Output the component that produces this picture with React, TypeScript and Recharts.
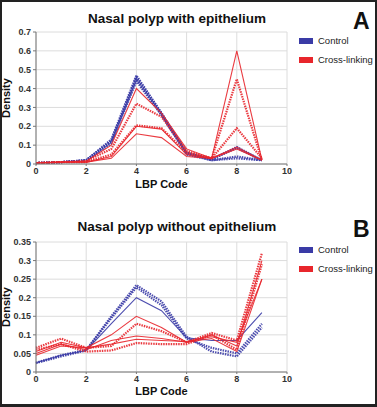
import { LineChart, Line, XAxis, YAxis, CartesianGrid } from 'recharts';

const lbpCodes = [0, 1, 2, 3, 4, 5, 6, 7, 8, 9];

// Panel A: nasal polyp with epithelium
const aControl1 = [0.005, 0.01, 0.02, 0.13, 0.47, 0.27, 0.06, 0.025, 0.09, 0.02];
const aControl2 = [0.005, 0.01, 0.02, 0.12, 0.46, 0.27, 0.06, 0.025, 0.085, 0.02];
const aControl3 = [0.005, 0.01, 0.02, 0.12, 0.45, 0.26, 0.055, 0.02, 0.04, 0.02];
const aControl4 = [0.005, 0.01, 0.015, 0.11, 0.44, 0.26, 0.05, 0.02, 0.03, 0.02];
const aCross1 = [0.005, 0.01, 0.015, 0.1, 0.4, 0.27, 0.08, 0.03, 0.6, 0.02];
const aCross2 = [0.005, 0.01, 0.015, 0.08, 0.32, 0.25, 0.07, 0.03, 0.45, 0.02];
const aCross3 = [0.005, 0.01, 0.01, 0.05, 0.205, 0.19, 0.06, 0.03, 0.19, 0.03];
const aCross4 = [0.005, 0.01, 0.01, 0.03, 0.16, 0.14, 0.04, 0.03, 0.08, 0.02];
const aCross5 = [0.005, 0.01, 0.01, 0.04, 0.2, 0.185, 0.05, 0.03, 0.09, 0.02];

// Panel B: nasal polyp without epithelium
const bControl1 = [0.024, 0.042, 0.058, 0.15, 0.234, 0.19, 0.095, 0.055, 0.042, 0.12];
const bControl2 = [0.025, 0.045, 0.06, 0.145, 0.228, 0.18, 0.09, 0.065, 0.05, 0.13];
const bControl3 = [0.025, 0.045, 0.058, 0.13, 0.2, 0.165, 0.092, 0.085, 0.085, 0.16];
const bCross1 = [0.065, 0.09, 0.065, 0.07, 0.13, 0.11, 0.08, 0.105, 0.085, 0.32];
const bCross2 = [0.055, 0.08, 0.065, 0.1, 0.15, 0.12, 0.08, 0.1, 0.07, 0.3];
const bCross3 = [0.05, 0.075, 0.06, 0.085, 0.097, 0.09, 0.08, 0.09, 0.055, 0.25];
const bCross4 = [0.06, 0.075, 0.055, 0.058, 0.078, 0.075, 0.075, 0.1, 0.06, 0.29];
const bCross5 = [0.045, 0.07, 0.065, 0.075, 0.088, 0.085, 0.082, 0.095, 0.08, 0.25];

const xTicks = [0, 2, 4, 6, 8, 10];
const aYTicks = [0, 0.1, 0.2, 0.3, 0.4, 0.5, 0.6, 0.7];
const bYTicks = [0, 0.05, 0.1, 0.15, 0.2, 0.25, 0.3, 0.35];

const BLUE = '#3a3ba6';
const RED = '#e8262c';
const FONT = '"Liberation Sans", Arial, sans-serif';

type SeriesDef = { key: string; values: number[]; color: string; dotted: boolean };

const aSeries: SeriesDef[] = [
  { key: 'c1', values: aControl1, color: BLUE, dotted: true },
  { key: 'c2', values: aControl2, color: BLUE, dotted: true },
  { key: 'c3', values: aControl3, color: BLUE, dotted: true },
  { key: 'c4', values: aControl4, color: BLUE, dotted: true },
  { key: 'x1', values: aCross1, color: RED, dotted: false },
  { key: 'x2', values: aCross2, color: RED, dotted: true },
  { key: 'x3', values: aCross3, color: RED, dotted: true },
  { key: 'x4', values: aCross4, color: RED, dotted: false },
  { key: 'x5', values: aCross5, color: RED, dotted: false },
];

const bSeries: SeriesDef[] = [
  { key: 'c1', values: bControl1, color: BLUE, dotted: true },
  { key: 'c2', values: bControl2, color: BLUE, dotted: true },
  { key: 'c3', values: bControl3, color: BLUE, dotted: false },
  { key: 'x1', values: bCross1, color: RED, dotted: true },
  { key: 'x2', values: bCross2, color: RED, dotted: false },
  { key: 'x3', values: bCross3, color: RED, dotted: false },
  { key: 'x4', values: bCross4, color: RED, dotted: true },
  { key: 'x5', values: bCross5, color: RED, dotted: false },
];

function toRows(series: SeriesDef[]) {
  return lbpCodes.map((code, i) => {
    const row: Record<string, number> = { code };
    series.forEach((s) => {
      row[s.key] = s.values[i];
    });
    return row;
  });
}

const tickStyle = { fontSize: 9, fontWeight: 700, fill: '#333', fontFamily: FONT };

function Panel({
  top,
  height,
  title,
  letter,
  series,
  yTicks,
  yMax,
  marginTop,
  xAxisHeight,
  legendTop,
  titleTop,
}: {
  top: number;
  height: number;
  title: string;
  letter: string;
  series: SeriesDef[];
  yTicks: number[];
  yMax: number;
  marginTop: number;
  xAxisHeight: number;
  legendTop: number;
  titleTop: number;
}) {
  return (
    <div style={{ position: 'absolute', left: 0, top, width: 377, height }}>
      <div
        style={{
          position: 'absolute',
          left: 0,
          width: 354,
          top: titleTop,
          textAlign: 'center',
          fontFamily: FONT,
          fontWeight: 700,
          fontSize: 13.5,
          color: '#111',
        }}
      >
        {title}
      </div>
      <div
        style={{
          position: 'absolute',
          left: 353,
          top: titleTop - 1,
          fontFamily: FONT,
          fontWeight: 700,
          fontSize: 23,
          lineHeight: '23px',
          color: '#111',
        }}
      >
        {letter}
      </div>
      {['Control', 'Cross-linking'].map((name, i) => (
        <div
          key={name}
          style={{
            position: 'absolute',
            left: 299,
            top: legendTop + i * 19,
            display: 'flex',
            alignItems: 'center',
            fontFamily: FONT,
            fontSize: 9.5,
            color: '#222',
          }}
        >
          <span
            style={{
              display: 'inline-block',
              width: 14,
              height: 6,
              background: i === 0 ? BLUE : RED,
              marginRight: 5,
            }}
          />
          {name}
        </div>
      ))}
      <div style={{ position: 'absolute', left: 0, top: 0 }}>
        <LineChart
          width={377}
          height={height}
          data={toRows(series)}
          margin={{ top: marginTop, right: 90, bottom: 0, left: 0 }}
        >
          <CartesianGrid stroke="#dcdcdc" strokeWidth={1} />
          <XAxis
            dataKey="code"
            type="number"
            domain={[0, 10]}
            ticks={xTicks}
            height={xAxisHeight}
            tick={tickStyle}
            tickSize={2}
            tickMargin={2}
            stroke="#777"
            interval={0}
            label={{
              value: 'LBP Code',
              position: 'insideBottom',
              offset: 12,
              style: { fontSize: 11, fontWeight: 700, fill: '#111', fontFamily: FONT },
            }}
          />
          <YAxis
            type="number"
            domain={[0, yMax]}
            ticks={yTicks}
            width={36}
            tick={tickStyle}
            tickSize={3}
            tickMargin={2}
            stroke="#777"
            interval={0}
            tickFormatter={(v: number) => String(Number(v.toFixed(2)))}
            label={{
              value: 'Density',
              angle: -90,
              position: 'insideLeft',
              offset: 6,
              style: { fontSize: 11, fontWeight: 700, fill: '#111', fontFamily: FONT, textAnchor: 'middle' },
            }}
          />
          {series.map((s) => (
            <Line
              key={s.key}
              dataKey={s.key}
              stroke={s.color}
              strokeWidth={s.dotted ? 2.2 : 1.1}
              strokeDasharray={s.dotted ? '1.5 1' : undefined}
              strokeOpacity={0.9}
              dot={false}
              activeDot={false}
              type="linear"
              isAnimationActive={false}
            />
          ))}
        </LineChart>
      </div>
    </div>
  );
}

export default function App() {
  return (
    <div
      style={{
        position: 'absolute',
        left: 0,
        top: 0,
        width: 377,
        height: 407,
        background: '#fff',
        overflow: 'hidden',
      }}
    >
      <Panel
        top={0}
        height={200}
        title="Nasal polyp with epithelium"
        letter="A"
        series={aSeries}
        yTicks={aYTicks}
        yMax={0.7}
        marginTop={32}
        xAxisHeight={36}
        legendTop={35}
        titleTop={11}
      />
      <Panel
        top={200}
        height={207}
        title="Nasal polyp without epithelium"
        letter="B"
        series={bSeries}
        yTicks={bYTicks}
        yMax={0.35}
        marginTop={42}
        xAxisHeight={35}
        legendTop={44}
        titleTop={19}
      />
      <div
        style={{
          position: 'absolute',
          left: 0,
          top: 0,
          width: 377,
          height: 407,
          boxSizing: 'border-box',
          border: '2px solid #222',
          borderBottomWidth: 3,
          pointerEvents: 'none',
        }}
      />
    </div>
  );
}
